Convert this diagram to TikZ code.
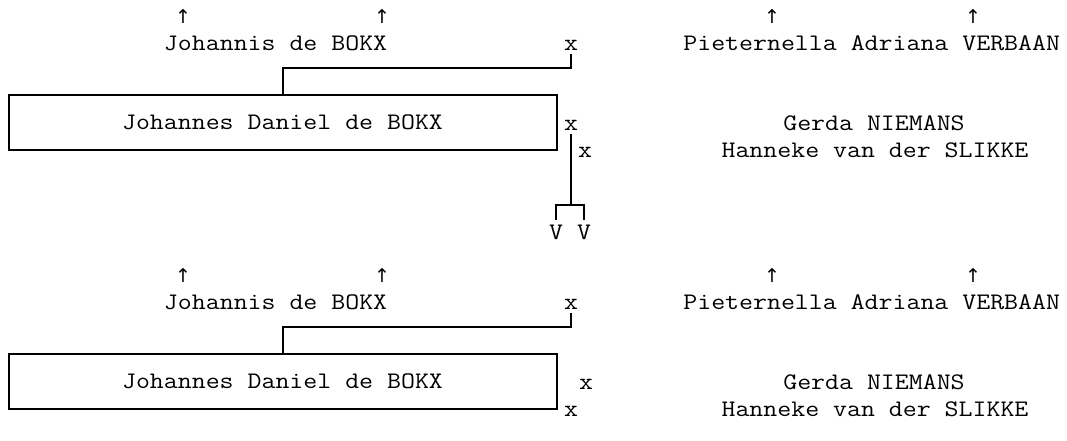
\documentclass[tikz,border=0pt]{standalone}
\usepackage{fontspec}
\setmonofont{Latin Modern Mono}[FakeStretch=1.143]
\newfontfamily\arrowfont{DejaVu Sans}
\usepackage{tikz}
\usetikzlibrary{positioning}

\tikzset{
  personname/.style={font=\ttfamily\fontsize{23.7}{26}\selectfont, inner sep=0pt, anchor=base},
  personbox/.style={draw, line width=2pt, minimum width=548pt, minimum height=55pt, inner sep=0pt, font=\ttfamily\fontsize{23.7}{26}\selectfont},
  wedding/.style={personname, inner sep=4pt},
  parentarrow/.style={font=\arrowfont\fontsize{19}{19}\selectfont, inner sep=0pt},
  link/.style={line width=2pt},
}

\begin{document}
\begin{tikzpicture}[x=1pt, y=-1pt]
  \useasboundingbox (0,0) rectangle (1067,440);
  % first chart
  \node[parentarrow] (arrA1) at (183,17) {↑};
  \node[parentarrow] (arrA2) at (382,17) {↑};
  \node[parentarrow] (arrA3) at (772,17) {↑};
  \node[parentarrow] (arrA4) at (973,17) {↑};
  \node[personname] (fatherA) at (275.6,50) {Johannis de BOKX};
  \node[personname] (motherA) at (871.7,50) {Pieternella Adriana VERBAAN};
  \node[wedding] (wedA) at (571,50) {x};
  \node[personbox] (personA) at (282.5,122.5) {Johannes Daniel de BOKX};
  \node[wedding] (wed1A) at (571,130) {x};
  \node[wedding] (wed2A) at (585,157) {x};
  \node[personname] (wife1A) at (874,130) {Gerda NIEMANS};
  \node[personname] (wife2A) at (875,157) {Hanneke van der SLIKKE};
  \node[wedding] (childA1) at (556,239) {V};
  \node[wedding] (childA2) at (584,239) {V};
  \coordinate (kidsA) at (571,205);
  \draw[link] (wedA.south) -- ++(0,14) -| (personA.north);
  \draw[link] (wed1A.south) -- (kidsA);
  \draw[link] (childA1.north) |- (kidsA) -| (childA2.north);

  % second chart
  \begin{scope}[shift={(0,259)}]
    \node[parentarrow] (arrB1) at (183,17) {↑};
    \node[parentarrow] (arrB2) at (382,17) {↑};
    \node[parentarrow] (arrB3) at (772,17) {↑};
    \node[parentarrow] (arrB4) at (973,17) {↑};
    \node[personname] (fatherB) at (275.6,50) {Johannis de BOKX};
    \node[personname] (motherB) at (871.7,50) {Pieternella Adriana VERBAAN};
    \node[wedding] (wedB) at (571,50) {x};
    \node[personbox] (personB) at (282.5,122.5) {Johannes Daniel de BOKX};
    \node[wedding] (wed1B) at (586,130) {x};
    \node[wedding] (wed2B) at (571,157) {x};
    \node[personname] (wife1B) at (874,130) {Gerda NIEMANS};
    \node[personname] (wife2B) at (875,157) {Hanneke van der SLIKKE};
    \draw[link] (wedB.south) -- ++(0,14) -| (personB.north);
  \end{scope}
\end{tikzpicture}
\end{document}
